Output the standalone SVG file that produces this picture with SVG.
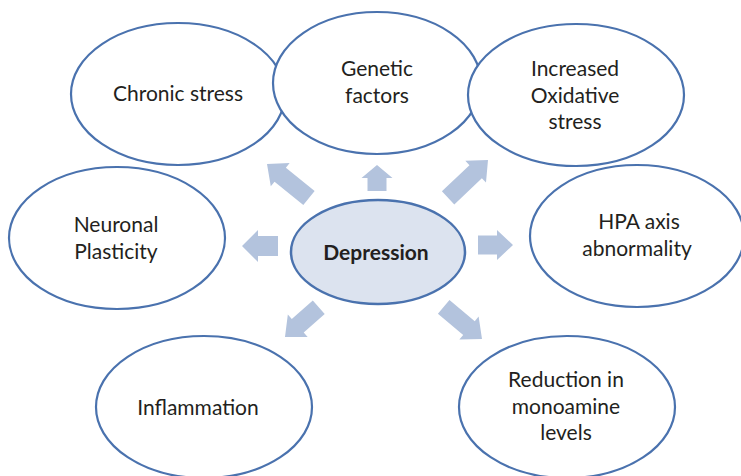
<svg xmlns="http://www.w3.org/2000/svg" width="741" height="476" viewBox="0 0 741 476">
<defs>
<style>
.node{fill:#fff;stroke:#4a72ae;stroke-width:2.2}
.center{fill:#dce3ef;stroke:#4a72ae;stroke-width:2.5}
.t{font-family:Lato,"Liberation Sans",sans-serif;font-size:21px;fill:#231f20;text-anchor:middle}
.b{font-weight:bold}
.arr{fill:#b3c3dd}
</style>
</defs>
<rect width="741" height="476" fill="#fff"/>
<g id="chronic"><ellipse class="node" cx="178" cy="94" rx="107" ry="71"/><text class="t" x="178" y="101">Chronic stress</text></g>
<g id="inflammation"><ellipse class="node" cx="204" cy="407" rx="108" ry="71"/><text class="t" x="198" y="415">Inflammation</text></g>
<g id="reduction"><ellipse class="node" cx="567" cy="407" rx="108" ry="71"/><text class="t" x="566" y="387">Reduction in</text><text class="t" x="566" y="414">monoamine</text><text class="t" x="566" y="440">levels</text></g>
<g id="genetic"><ellipse class="node" cx="377" cy="83" rx="104" ry="71"/><text class="t" x="377" y="76">Genetic</text><text class="t" x="377" y="103">factors</text></g>
<g id="oxidative"><ellipse class="node" cx="576" cy="95" rx="108" ry="71"/><text class="t" x="575" y="76">Increased</text><text class="t" x="575" y="103">Oxidative</text><text class="t" x="575" y="129">stress</text></g>
<g id="neuronal"><ellipse class="node" cx="117" cy="238" rx="108" ry="71"/><text class="t" x="116" y="232">Neuronal</text><text class="t" x="116" y="259">Plasticity</text></g>
<g id="hpa"><ellipse class="node" cx="637" cy="236" rx="107" ry="71"/><text class="t" x="639" y="229">HPA axis</text><text class="t" x="637" y="256">abnormality</text></g>
<g id="depression"><ellipse class="center" cx="378" cy="252" rx="87" ry="52"/><text class="t b" x="376" y="260">Depression</text></g>
<g id="connectors">
<polygon class="arr" transform="translate(377,165) rotate(-90)" points="0,0 -13,-15.5 -13,-9.5 -26,-9.5 -26,9.5 -13,9.5 -13,15.5"/>
<polygon class="arr" transform="translate(242,246) rotate(180)" points="0,0 -16,-16 -16,-10 -36,-10 -36,10 -16,10 -16,16"/>
<polygon class="arr" transform="translate(513,245)" points="0,0 -16,-15 -16,-9.5 -35,-9.5 -35,9.5 -16,9.5 -16,15"/>
<polygon class="arr" transform="translate(267,164) rotate(219)" points="0,0 -17,-15 -17,-9 -54,-9 -54,9 -17,9 -17,15"/>
<polygon class="arr" transform="translate(488,160) rotate(-43.5)" points="0,0 -17,-15 -17,-9 -55,-9 -55,9 -17,9 -17,15"/>
<polygon class="arr" transform="translate(285,337) rotate(138.6)" points="0,0 -17,-15 -17,-9 -45,-9 -45,9 -17,9 -17,15"/>
<polygon class="arr" transform="translate(482,339) rotate(40)" points="0,0 -17,-15 -17,-9 -50,-9 -50,9 -17,9 -17,15"/>
</g>
</svg>
